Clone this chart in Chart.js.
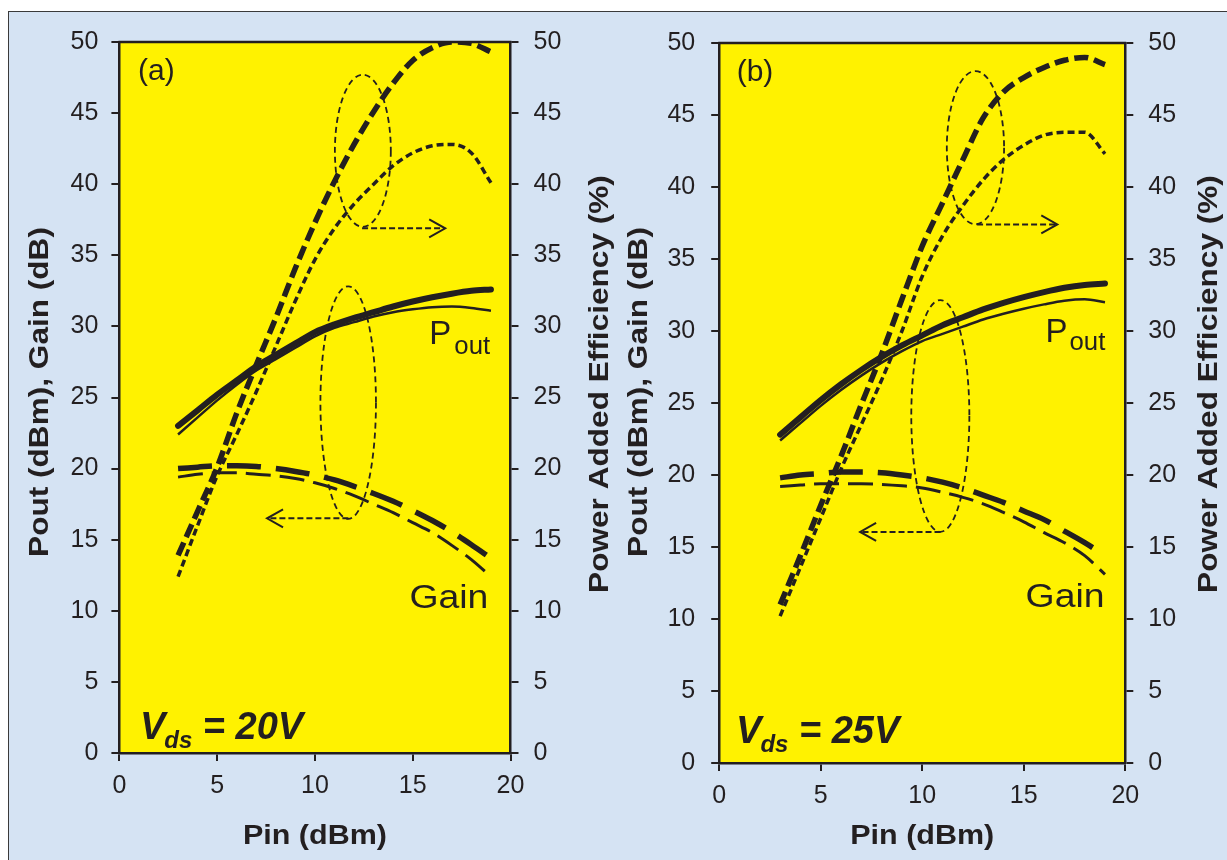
<!DOCTYPE html>
<html>
<head>
<meta charset="utf-8">
<script src="https://cdn.jsdelivr.net/npm/chart.js@4.4.0/dist/chart.umd.min.js"></script>
<style>
html, body { margin: 0; padding: 0; background: #fff; overflow: hidden; }
#frame { position: absolute; left: 8px; top: 11px; width: 1300px; height: 900px; background: #d5e3f3; border: 1px solid #3a3a3a; }
canvas { position: absolute; }
#ca { left: 9px; top: 12px; }
#cb { left: 612px; top: 12px; }
</style>
</head>
<body>
<div id="frame"></div>
<canvas id="ca" width="616" height="848"></canvas>
<canvas id="cb" width="615" height="848"></canvas>
<script>
const INK = '#231f20';
const YELLOW = '#fff200';

// input power (dBm), same for every curve
const PIN = [3, 4, 5, 6, 7, 8, 9, 10, 11, 12, 13, 14, 15, 16, 17, 18, 19];

// (a) Vds = 20V
const poutThickA = [23.0, 24.1, 25.2, 26.2, 27.2, 28.0, 28.8, 29.6, 30.15, 30.6, 31.0, 31.4, 31.75, 32.05, 32.3, 32.5, 32.6];
const poutThinA  = [22.4, 23.6, 24.8, 25.9, 26.9, 27.7, 28.5, 29.3, 29.9, 30.3, 30.7, 31.0, 31.2, 31.35, 31.4, 31.3, 31.1];
const paeThickA  = [13.9, 17.0, 20.1, 23.9, 27.3, 30.6, 34.1, 37.3, 40.2, 42.8, 45.1, 47.1, 48.7, 49.6, 50.0, 49.9, 49.3];
const paeThinA   = [12.4, 16.0, 19.5, 22.4, 25.4, 28.6, 31.8, 34.7, 36.9, 38.6, 40.0, 41.3, 42.2, 42.7, 42.8, 42.2, 40.1];
const gainThickA = [20.0, 20.1, 20.2, 20.2, 20.15, 20.0, 19.8, 19.55, 19.2, 18.75, 18.25, 17.7, 17.05, 16.35, 15.55, 14.65, 13.7];
const gainThinA  = [19.4, 19.6, 19.7, 19.7, 19.6, 19.5, 19.3, 19.0, 18.6, 18.1, 17.5, 16.9, 16.2, 15.5, 14.6, 13.6, 12.4];

// (b) Vds = 25V
const poutThickB = [22.8, 24.0, 25.2, 26.3, 27.3, 28.2, 29.0, 29.7, 30.4, 30.95, 31.5, 31.95, 32.35, 32.7, 33.0, 33.2, 33.3];
const poutThinB  = [22.4, 23.6, 24.8, 25.9, 26.9, 27.8, 28.6, 29.3, 29.8, 30.3, 30.8, 31.2, 31.55, 31.85, 32.1, 32.2, 32.0];
const paeThickB  = [11.0, 14.4, 17.9, 21.3, 24.9, 28.4, 32.2, 35.9, 38.9, 41.9, 44.8, 46.6, 47.6, 48.3, 48.8, 49.0, 48.5];
const paeThinB   = [10.2, 13.6, 17.0, 20.4, 23.5, 26.6, 30.0, 33.8, 36.6, 38.7, 40.5, 41.9, 42.9, 43.6, 43.8, 43.8, 42.3];
const gainThickB = [19.8, 20.0, 20.1, 20.2, 20.2, 20.15, 20.0, 19.8, 19.5, 19.1, 18.6, 18.1, 17.5, 16.9, 16.1, 15.3, 14.4];
const gainThinB  = [19.2, 19.3, 19.4, 19.4, 19.4, 19.35, 19.25, 19.1, 18.8, 18.45, 18.0, 17.4, 16.75, 16.0, 15.3, 14.4, 13.1];

// tick values
const X_TICKS = [0, 5, 10, 15, 20];
const Y_TICKS = [0, 5, 10, 15, 20, 25, 30, 35, 40, 45, 50];

function pts(ys) {
  return PIN.map((x, i) => ({ x: x, y: ys[i] }));
}

function line(data, axis, width, dash, cap) {
  return {
    data: pts(data), yAxisID: axis,
    borderColor: INK, borderWidth: width, borderDash: dash,
    borderCapStyle: cap || 'butt', pointRadius: 0,
    cubicInterpolationMode: 'monotone', fill: false
  };
}

function hText(ctx, str, x, y, font, sx) {
  ctx.save();
  ctx.translate(x, y);
  ctx.scale(sx, 1);
  ctx.font = font;
  ctx.fillText(str, 0, 0);
  ctx.restore();
}

function vText(ctx, str, cx, cy, font, stretch) {
  ctx.save();
  ctx.translate(cx, cy);
  ctx.rotate(-Math.PI / 2);
  ctx.scale(stretch, 1);
  ctx.font = font;
  ctx.textAlign = 'center';
  ctx.textBaseline = 'middle';
  ctx.fillText(str, 0, 0);
  ctx.restore();
}

const decoPlugin = {
  id: 'deco',
  beforeDraw(chart) {
    const { ctx, chartArea: a } = chart;
    ctx.save();
    ctx.fillStyle = YELLOW;
    ctx.fillRect(a.left, a.top, a.right - a.left, a.bottom - a.top);
    ctx.restore();
  },
  afterDraw(chart, args, o) {
    const { ctx, chartArea: a, scales } = chart;
    const X = v => scales.x.getPixelForValue(v);
    const Y = v => scales.y.getPixelForValue(v);
    ctx.save();
    ctx.strokeStyle = INK;
    ctx.fillStyle = INK;

    // top frame line
    ctx.lineWidth = 2.5;
    ctx.beginPath();
    ctx.moveTo(a.left - 1, a.top);
    ctx.lineTo(a.right + 1, a.top);
    ctx.stroke();

    // dotted loops
    ctx.lineWidth = 1.8;
    ctx.setLineDash([6, 4]);
    o.loops.forEach(l => {
      const cx = X(l.x), cy = Y(l.y);
      ctx.beginPath();
      ctx.ellipse(cx, cy, Math.abs(X(l.x + l.rx) - cx), Math.abs(Y(l.y + l.ry) - cy), 0, 0, Math.PI * 2);
      ctx.stroke();
    });

    // arrows
    o.arrows.forEach(r => {
      const x0 = X(r.x0), x1 = X(r.x1), y = Y(r.y);
      const d = x1 > x0 ? 1 : -1;
      ctx.lineWidth = 2;
      ctx.setLineDash([6, 3]);
      ctx.beginPath();
      ctx.moveTo(x0, y);
      ctx.lineTo(x1, y);
      ctx.stroke();
      ctx.setLineDash([]);
      ctx.beginPath();
      ctx.moveTo(x1 - d * 16, y - 9);
      ctx.lineTo(x1, y);
      ctx.lineTo(x1 - d * 16, y + 9);
      ctx.stroke();
    });
    ctx.setLineDash([]);

    // labels inside the plot
    ctx.textAlign = 'left';
    ctx.textBaseline = 'alphabetic';
    hText(ctx, o.tag, X(o.tagAt[0]), Y(o.tagAt[1]), '30px "Liberation Sans", Arial', 1);

    const px = X(o.poutAt[0]), py = Y(o.poutAt[1]);
    ctx.font = '33px "Liberation Sans", Arial';
    const pw = ctx.measureText('P').width;
    hText(ctx, 'P', px, py, '33px "Liberation Sans", Arial', 1);
    hText(ctx, 'out', px + pw + o.subDx, py + o.subDy, '25px "Liberation Sans", Arial', 1.03);

    hText(ctx, 'Gain', X(o.gainAt[0]), Y(o.gainAt[1]), '34px "Liberation Sans", Arial', 1.1);

    const vx = X(o.vdsAt[0]), vy = Y(o.vdsAt[1]);
    const big = 'italic bold 38px "Liberation Sans", Arial';
    const small = 'italic bold 24px "Liberation Sans", Arial';
    ctx.font = big;
    const vw = ctx.measureText('V').width;
    ctx.fillText('V', vx, vy);
    ctx.font = small;
    const dw = ctx.measureText('ds').width;
    ctx.fillText('ds', vx + vw - 1, vy + 9);
    ctx.font = big;
    ctx.fillText(' = ' + o.vds, vx + vw - 1 + dw, vy);

    // axis titles
    const tf = 'bold 27px "Liberation Sans", Arial';
    vText(ctx, 'Pout (dBm), Gain (dB)', o.leftTitleX, 380, tf, 1.17);
    vText(ctx, 'Power Added Efficiency (%)', o.rightTitleX, 372, tf, 1.17);
    ctx.textAlign = 'center';
    hText(ctx, 'Pin (dBm)', (a.left + a.right) / 2, 832, tf, 1.13);
    ctx.restore();
  }
};

function makeChart(id, set, fit, deco) {
  const tickFont = { family: '"Liberation Sans", Arial', size: 25 };
  const axisCommon = {
    type: 'linear',
    grid: { drawOnChartArea: false, drawTicks: true, tickLength: 8, color: INK, lineWidth: 2 },
    border: { display: true, color: INK, width: 2.5 }
  };
  return new Chart(document.getElementById(id), {
    type: 'line',
    data: {
      datasets: [
        line(set.poutThick, 'y', 6, [], 'round'),
        line(set.poutThin, 'y', 2.5, []),
        line(set.paeThick, 'y2', 5.5, [14, 6]),
        line(set.paeThin, 'y2', 3.5, [7, 4]),
        line(set.gainThick, 'y', 5.5, [34, 15]),
        line(set.gainThin, 'y', 3, [25, 9])
      ]
    },
    options: {
      responsive: false,
      animation: false,
      devicePixelRatio: 1,
      layout: { padding: { top: 23, left: 0, right: 0, bottom: 0 } },
      plugins: { legend: { display: false }, tooltip: { enabled: false }, deco: deco },
      scales: {
        x: Object.assign({}, axisCommon, {
          min: 0, max: 20,
          afterBuildTicks: s => { s.ticks = X_TICKS.map(v => ({ value: v })); },
          ticks: { font: tickFont, color: INK, padding: 10, maxRotation: 0 },
          afterFit: s => { s.height = fit.bottom; }
        }),
        y: Object.assign({}, axisCommon, {
          position: 'left', min: 0, max: 50,
          afterBuildTicks: s => { s.ticks = Y_TICKS.map(v => ({ value: v })); },
          ticks: { font: tickFont, color: INK, padding: fit.leftPad },
          afterFit: s => { s.width = fit.left; }
        }),
        y2: Object.assign({}, axisCommon, {
          position: 'right', min: 0, max: 50,
          afterBuildTicks: s => { s.ticks = Y_TICKS.map(v => ({ value: v })); },
          ticks: { font: tickFont, color: INK, padding: 15 },
          afterFit: s => { s.width = fit.right; }
        })
      }
    },
    plugins: [decoPlugin]
  });
}

makeChart('ca',
  { poutThick: poutThickA, poutThin: poutThinA, paeThick: paeThickA, paeThin: paeThinA, gainThick: gainThickA, gainThin: gainThinA },
  { left: 110.4, right: 114.5, bottom: 107, leftPad: 13 },
  {
    tag: '(a)', tagAt: [0.95, 47.3],
    poutAt: [15.85, 28.76], subDx: 3, subDy: 10,
    gainAt: [14.83, 10.17],
    vdsAt: [1.05, 0.97], vds: '20V',
    loops: [{ x: 12.45, y: 42.35, rx: 1.43, ry: 5.35 }, { x: 11.7, y: 24.64, rx: 1.42, ry: 8.18 }],
    arrows: [{ x0: 12.41, x1: 16.66, y: 36.9 }, { x0: 11.71, x1: 7.55, y: 16.5 }],
    leftTitleX: 32, rightTitleX: 592
  });

makeChart('cb',
  { poutThick: poutThickB, poutThin: poutThinB, paeThick: paeThickB, paeThin: paeThinB, gainThick: gainThickB, gainThin: gainThinB },
  { left: 107.2, right: 101.7, bottom: 97, leftPad: 16 },
  {
    tag: '(b)', tagAt: [0.86, 47.34],
    poutAt: [16.07, 29.26], subDx: 2, subDy: 8,
    gainAt: [15.09, 10.85],
    vdsAt: [0.83, 1.37], vds: '25V',
    loops: [{ x: 12.62, y: 42.73, rx: 1.41, ry: 5.32 }, { x: 10.89, y: 24.1, rx: 1.43, ry: 8.05 }],
    arrows: [{ x0: 12.7, x1: 16.65, y: 37.4 }, { x0: 10.9, x1: 6.94, y: 16.05 }],
    leftTitleX: 28, rightTitleX: 597.5
  });
</script>
</body>
</html>
